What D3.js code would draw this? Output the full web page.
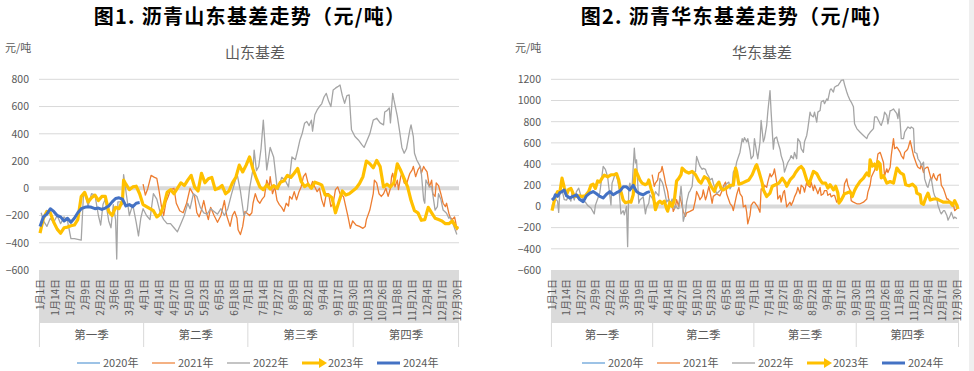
<!DOCTYPE html>
<html>
<head>
<meta charset="utf-8">
<script src="https://cdn.jsdelivr.net/npm/d3@7"></script>
<style>
  body { margin: 0; background: #fff; }
  svg { display: block; }
  text { font-family: "Noto Sans CJK SC", "Noto Sans", sans-serif; }
</style>
</head>
<body>
<svg id="chart" width="974" height="371"></svg>
<script>
/*
  data : [day of year (0 = 1月1日), value]
*/
var years = ['2020年', '2021年', '2022年', '2023年', '2024年'];
var quarters = ['第一季', '第二季', '第三季', '第四季'];
var tickLabels = ['1月1日','1月14日','1月27日','2月9日','2月22日','3月6日','3月19日',
  '4月1日','4月14日','4月27日','5月10日','5月23日','6月5日','6月18日',
  '7月1日','7月14日','7月27日','8月9日','8月22日','9月4日','9月17日','9月30日',
  '10月13日','10月26日','11月8日','11月21日','12月4日','12月17日','12月30日'];

// 山东基差
var sd2021 = [[90,30],[92,-50],[94,-5],[97,95],[100,80],[102,73],[104,-20],[106,-130],[108,-200],[110,-100],[112,-60],[114,-10],[117,0],[119,-110],[122,-165],[125,-180],[128,-110],[131,0],[133,-30],[135,-60],[137,-180],[139,-210],[141,-160],[143,-90],[145,-170],[147,-230],[149,-140],[152,-200],[155,-250],[158,-200],[161,-90],[163,-200],[166,-280],[168,-200],[170,-170],[172,-220],[173,-305],[175,-340],[177,-280],[179,-170],[183,-200],[185,-180],[186,-110],[188,-40],[190,-90],[192,-110],[194,-80],[196,-60],[198,60],[200,10],[201,85],[203,-40],[205,10],[207,-90],[209,-120],[211,-140],[213,-170],[215,-110],[217,-130],[218,-60],[220,-80],[222,-25],[224,-85],[226,-30],[228,10],[230,85],[232,110],[234,40],[236,0],[238,50],[240,10],[242,-25],[244,0],[246,-85],[248,-135],[250,-40],[252,-40],[254,-135],[256,-110],[258,-10],[260,10],[262,-40],[265,-60],[267,-135],[269,-210],[271,-294],[273,-240],[276,-270],[279,-280],[282,-294],[284,-280],[285,-230],[288,-160],[291,-40],[292,60],[294,40],[296,-40],[298,-60],[300,-40],[302,0],[304,-60],[306,0],[307,85],[308,110],[310,10],[312,60],[313,-10],[315,85],[316,110],[318,40],[320,30],[322,85],[323,110],[325,135],[326,160],[328,85],[330,135],[332,160],[333,110],[335,160],[336,145],[338,120],[340,10],[342,60],[343,-40],[345,-60],[346,40],[348,20],[350,-40],[352,-110],[354,-135],[355,-110],[357,-183],[358,-210],[360,-230],[362,-210],[363,-250],[364,-305],[365,-280]];
var sd2022 = [[1,-180],[3,-240],[6,-280],[9,-220],[12,-250],[15,-200],[18,-260],[21,-210],[24,-240],[27,-370],[30,-370],[33,-375],[36,-380],[38,-40],[40,-60],[42,-130],[45,-40],[48,-50],[51,-200],[53,-270],[55,-120],[57,-80],[60,-240],[62,-290],[64,-120],[66,-230],[67,-520],[68,-100],[70,-100],[72,-120],[73,100],[75,-20],[78,-200],[81,-120],[84,-250],[86,-350],[88,-220],[90,-150],[93,-200],[96,-230],[99,-40],[102,-80],[105,-180],[108,-230],[111,-260],[114,-260],[117,-290],[120,-320],[123,-260],[126,-200],[129,-110],[131,-150],[134,-40],[137,-60],[140,-140],[143,-180],[146,-190],[149,-150],[152,-170],[155,-190],[158,-150],[161,-200],[164,-150],[167,-50],[170,40],[172,110],[175,-20],[178,-200],[181,-160],[183,0],[186,140],[187,280],[189,130],[191,160],[193,290],[195,500],[196,380],[198,135],[201,300],[204,230],[207,10],[208,-10],[211,80],[214,60],[217,10],[220,230],[223,210],[225,280],[227,355],[229,404],[231,477],[233,490],[235,460],[237,500],[238,420],[240,540],[242,575],[244,600],[246,620],[248,670],[250,697],[252,640],[254,600],[256,722],[258,735],[260,746],[262,758],[264,680],[266,624],[268,680],[270,685],[272,430],[275,380],[278,355],[281,320],[283,300],[285,340],[288,400],[291,500],[294,514],[297,480],[300,465],[301,560],[303,570],[305,590],[306,480],[308,697],[309,650],[312,530],[314,420],[316,300],[318,257],[320,290],[323,430],[324,465],[326,380],[327,257],[329,208],[332,160],[333,110],[335,-85],[336,-110],[337,61],[340,10],[342,12],[345,-160],[347,-135],[348,-40],[350,-80],[352,-160],[355,-183],[357,-220],[358,-210],[361,-270],[364,-340]];
var sd2023 = [[0,-330],[3,-220],[6,-170],[9,-180],[12,-250],[15,-300],[18,-330],[21,-290],[24,-285],[27,-275],[30,-270],[33,-230],[36,-60],[39,-30],[42,-100],[45,-70],[48,-50],[51,-90],[54,-60],[57,-60],[60,-170],[63,-200],[66,-140],[69,-150],[72,-90],[73,60],[75,30],[78,-10],[81,10],[84,15],[87,-40],[90,-120],[93,-135],[96,-150],[99,-165],[102,-210],[105,-190],[108,-130],[111,-30],[114,-10],[117,-40],[120,0],[123,40],[126,20],[129,60],[132,95],[135,10],[138,-20],[141,110],[144,40],[147,70],[150,80],[153,-10],[156,0],[159,20],[162,-40],[165,-20],[168,40],[171,80],[174,170],[177,120],[180,170],[183,230],[186,140],[189,70],[192,10],[195,-10],[198,25],[201,-5],[204,20],[207,0],[210,45],[213,55],[216,95],[219,80],[222,110],[225,145],[228,50],[231,12],[234,30],[237,0],[240,45],[243,35],[246,25],[249,-50],[252,-50],[255,-70],[258,-180],[261,-100],[264,-20],[267,-50],[270,-40],[273,-20],[276,0],[279,35],[282,85],[285,200],[288,180],[291,150],[294,205],[297,160],[300,10],[303,30],[306,10],[309,40],[312,180],[315,130],[318,70],[321,10],[324,-90],[327,-165],[330,-180],[333,-235],[336,-230],[339,-140],[342,-180],[345,-220],[348,-230],[351,-240],[354,-260],[357,-260],[360,-240],[363,-280],[365,-300]];
var sd2024 = [[0,-280],[3,-210],[6,-190],[9,-150],[12,-170],[15,-200],[18,-210],[21,-240],[24,-220],[27,-250],[30,-220],[33,-180],[36,-150],[39,-140],[42,-135],[45,-140],[48,-150],[51,-145],[54,-155],[57,-145],[60,-130],[63,-100],[66,-75],[69,-70],[72,-80],[75,-130],[78,-120],[81,-135],[84,-110],[87,-105]];

// 华东基差
var hd2021 = [[90,300],[92,190],[93,220],[95,250],[96,315],[98,330],[99,377],[101,280],[102,220],[104,140],[105,60],[107,0],[108,30],[109,-47],[111,0],[112,63],[114,0],[115,95],[117,0],[118,-47],[120,-94],[121,-60],[124,-47],[127,-30],[129,63],[130,141],[132,95],[133,63],[135,95],[136,157],[138,63],[139,95],[141,189],[142,141],[144,30],[145,95],[148,120],[151,100],[153,150],[154,190],[156,230],[157,120],[159,60],[160,30],[162,0],[163,-40],[165,60],[166,110],[168,180],[169,120],[171,90],[172,-5],[174,10],[175,-55],[176,-165],[178,-85],[179,10],[181,40],[182,40],[184,10],[185,-5],[187,-55],[188,165],[190,165],[191,200],[193,180],[194,230],[196,310],[197,280],[199,310],[200,355],[202,230],[203,70],[205,105],[206,40],[208,135],[209,150],[211,-5],[212,10],[214,40],[215,10],[217,55],[218,90],[220,135],[221,180],[223,120],[224,200],[226,180],[227,135],[229,230],[230,200],[232,180],[233,230],[235,150],[236,200],[238,150],[239,120],[241,180],[242,105],[244,120],[245,150],[247,150],[248,105],[250,120],[251,90],[253,105],[254,105],[256,40],[257,55],[259,70],[260,55],[262,105],[263,215],[265,260],[266,200],[268,150],[269,55],[271,40],[274,25],[277,25],[280,40],[283,70],[284,135],[286,200],[287,275],[289,320],[290,340],[292,415],[293,495],[295,510],[296,480],[298,415],[299,290],[301,355],[302,320],[304,370],[305,480],[307,640],[308,545],[310,560],[311,545],[313,510],[314,480],[316,450],[317,510],[319,530],[320,545],[322,620],[323,575],[325,480],[326,450],[328,390],[329,370],[331,355],[332,400],[334,320],[335,355],[337,370],[338,370],[340,290],[341,245],[343,310],[344,275],[346,245],[347,290],[349,305],[350,200],[352,165],[353,135],[355,70],[356,70],[358,40],[359,25],[361,10],[362,-40],[364,-20]];
var hd2022 = [[1,30],[3,70],[5,50],[6,-57],[7,130],[9,157],[11,65],[13,60],[15,100],[17,50],[18,130],[20,60],[22,140],[24,173],[26,100],[28,60],[30,40],[32,10],[35,-15],[38,-70],[39,10],[41,70],[43,130],[46,377],[48,350],[50,280],[51,190],[53,15],[54,220],[55,250],[57,315],[59,250],[60,190],[62,-70],[64,-40],[65,-80],[67,0],[68,-380],[69,170],[70,220],[71,160],[72,180],[74,550],[75,410],[76,440],[78,30],[79,60],[82,90],[84,-70],[85,-10],[87,30],[88,110],[90,80],[91,60],[93,140],[94,125],[96,100],[97,264],[99,230],[100,200],[102,100],[103,40],[105,70],[106,10],[108,70],[110,-20],[111,10],[113,-20],[114,-20],[116,190],[117,70],[118,-140],[120,-60],[121,40],[123,130],[124,145],[126,190],[127,315],[129,330],[130,472],[132,410],[133,380],[135,350],[136,360],[138,350],[139,315],[141,280],[142,250],[144,265],[145,220],[148,120],[151,150],[154,180],[157,215],[159,230],[160,165],[162,200],[163,324],[165,360],[166,418],[168,480],[169,512],[171,640],[172,610],[173,650],[175,610],[176,640],[178,530],[179,450],[181,480],[182,640],[184,510],[185,450],[187,610],[188,811],[190,610],[191,640],[193,764],[194,890],[196,1094],[197,890],[199,540],[200,640],[202,655],[203,610],[205,540],[206,480],[208,415],[209,324],[211,385],[212,415],[214,450],[215,480],[217,450],[218,510],[220,450],[221,640],[223,610],[224,545],[226,510],[227,610],[229,670],[230,735],[232,890],[233,860],[235,845],[236,890],[238,795],[239,890],[241,905],[242,985],[244,1000],[245,970],[247,1015],[248,1000],[250,1100],[251,1110],[253,1080],[254,1125],[256,1140],[257,1140],[259,1170],[260,1190],[262,1195],[263,1150],[265,1080],[266,1050],[268,1000],[269,985],[271,940],[272,780],[274,735],[277,700],[280,670],[283,640],[284,670],[286,700],[289,735],[290,845],[292,845],[295,780],[296,765],[298,830],[299,890],[301,860],[302,780],[304,905],[305,905],[307,920],[308,905],[310,875],[311,830],[312,920],[313,795],[314,640],[316,640],[317,700],[319,735],[320,750],[322,735],[323,750],[325,735],[326,512],[328,500],[329,450],[331,418],[332,385],[334,418],[335,260],[337,195],[338,180],[340,260],[341,260],[343,135],[344,100],[346,70],[347,10],[349,-50],[350,-70],[352,-40],[353,-40],[355,-85],[356,-130],[358,-85],[359,-55],[361,-115],[362,-100],[364,-115]];
var hd2023 = [[0,-40],[3,94],[5,140],[7,130],[9,267],[11,180],[13,110],[15,160],[17,170],[19,120],[21,95],[24,100],[27,95],[30,100],[33,140],[35,200],[37,210],[39,170],[41,240],[43,230],[45,267],[47,295],[50,280],[53,299],[56,300],[58,310],[60,250],[62,140],[64,60],[66,35],[69,45],[71,40],[73,110],[75,346],[77,300],[79,250],[81,220],[84,205],[86,220],[87,250],[89,170],[91,110],[93,-31],[95,30],[97,50],[99,30],[101,50],[103,-20],[104,-45],[106,40],[108,0],[110,60],[112,240],[114,265],[116,300],[117,362],[120,330],[123,315],[126,330],[129,300],[132,240],[134,220],[137,280],[140,260],[143,190],[146,141],[148,200],[150,230],[152,170],[154,157],[157,175],[160,200],[163,200],[165,362],[166,330],[168,210],[171,220],[174,235],[177,250],[180,299],[183,377],[184,393],[186,330],[189,220],[190,157],[193,94],[196,126],[198,190],[201,205],[204,220],[207,267],[210,220],[211,190],[214,250],[217,283],[219,320],[222,362],[224,377],[226,350],[229,250],[231,210],[235,330],[238,310],[241,250],[243,220],[246,220],[248,173],[250,205],[253,157],[255,190],[257,126],[258,31],[260,60],[263,120],[265,126],[268,140],[270,94],[272,150],[274,190],[277,236],[280,267],[282,300],[283,315],[285,290],[286,440],[288,380],[290,400],[292,350],[293,424],[295,400],[296,270],[298,290],[301,220],[304,235],[307,220],[310,362],[313,320],[316,300],[318,204],[321,195],[324,210],[327,180],[328,126],[331,110],[332,31],[334,20],[336,80],[338,126],[340,60],[343,70],[346,70],[349,55],[352,40],[355,40],[358,40],[360,10],[362,55],[364,10],[365,-25]];
var hd2024 = [[0,60],[2,80],[3,110],[5,95],[7,130],[9,140],[11,155],[13,100],[16,80],[19,95],[22,110],[25,65],[28,45],[31,100],[34,125],[37,140],[40,120],[43,95],[46,80],[49,115],[52,140],[55,110],[58,130],[61,145],[64,185],[67,185],[70,155],[73,200],[76,140],[79,120],[82,110],[85,130],[88,140]];

var lineColors = ['#5b9bd5', '#ed7d31', '#a5a5a5', '#ffc000', '#4472c4'];
var legendColors = ['#9dc3e6', '#f4b183', '#c4c4c4', '#ffc000', '#4472c4'];
var lineWidths = [1.3, 1.3, 1.3, 3.2, 3];

var svg = d3.select('#chart');
var yearStart = new Date(2024, 0, 1);

function dayOf(label) {
  var m = label.match(/(\d+)月(\d+)日/);
  return d3.timeDay.count(yearStart, new Date(2024, +m[1] - 1, +m[2]));
}
var tickDays = tickLabels.map(dayOf);
var quarterBounds = d3.range(5).map(function(q) {
  return d3.timeDay.count(yearStart, new Date(2024, q * 3, 1));
});

function drawPanel(p) {
  var x = d3.scaleLinear().domain([0, 365]).range([p.x0, p.x1]),
      y = d3.scaleLinear().domain([p.yMin, p.yMax]).range([270, 79.3]);
  var g = svg.append('g');

  // titles
  g.append('text').attr('x', p.titleX).attr('y', 23.5).attr('text-anchor', 'middle')
    .attr('font-size', 20).attr('font-weight', 'bold').attr('letter-spacing', 1.3)
    .attr('fill', '#000').text(p.title);
  g.append('text').attr('x', p.unitX).attr('y', 52)
    .attr('font-size', 11).attr('fill', '#595959').text('元/吨');
  g.append('text').attr('x', p.subX).attr('y', 58).attr('text-anchor', 'middle')
    .attr('font-size', 15).attr('fill', '#595959').text(p.sub);

  // category band
  g.append('rect').attr('x', p.x0 - 1).attr('y', 270)
    .attr('width', p.x1 - p.x0 + 2).attr('height', 53).attr('fill', '#dadada');

  // gridlines
  var ticks = d3.range(p.yMin, p.yMax + 1, 200);
  g.selectAll('line.grid').data(ticks.filter(function(t) { return t > p.yMin; }))
    .enter().append('line')
      .attr('class', 'grid')
      .attr('x1', p.x0 - 1).attr('x2', p.x1 + 1)
      .attr('y1', function(d) { return y(d); })
      .attr('y2', function(d) { return y(d); })
      .attr('stroke', '#d9d9d9')
      .attr('stroke-width', function(d) { return d === 0 ? 4 : 1; });

  // y axis labels
  var ya = g.append('g').attr('transform', 'translate(' + (p.x0 - 11) + ',0)')
    .call(d3.axisLeft(y).tickValues(ticks).tickSize(0).tickPadding(0).tickFormat(d3.format('d')));
  ya.select('.domain').remove();
  ya.attr('font-family', null);
  ya.selectAll('text').attr('font-size', 10.5).attr('fill', '#595959');

  // date labels
  var xa = g.append('g').attr('transform', 'translate(0,279)')
    .call(d3.axisBottom(x).tickValues(tickDays).tickSize(0)
      .tickFormat(function(d, i) { return tickLabels[i]; }));
  xa.select('.domain').remove();
  xa.attr('font-family', null);
  xa.selectAll('text')
    .attr('transform', 'rotate(-90)')
    .attr('text-anchor', 'end')
    .attr('x', 0).attr('y', 0).attr('dy', '0.35em')
    .attr('font-size', 10).attr('fill', '#595959');

  // quarter groups
  g.selectAll('line.q').data(quarterBounds).enter().append('line')
    .attr('x1', function(d) { return x(d - 0.5); })
    .attr('x2', function(d) { return x(d - 0.5); })
    .attr('y1', 323).attr('y2', 347)
    .attr('stroke', '#d9d9d9');
  g.selectAll('text.q').data(quarters).enter().append('text')
    .attr('x', function(d, i) { return (x(quarterBounds[i] - 0.5) + x(quarterBounds[i + 1] - 0.5)) / 2; })
    .attr('y', 339).attr('text-anchor', 'middle')
    .attr('font-size', 11.5).attr('fill', '#595959').text(function(d) { return d; });

  // series
  var line = d3.line()
    .x(function(d) { return x(d[0]); })
    .y(function(d) { return y(d[1]); });
  p.series.forEach(function(s, i) {
    if (!s) return;
    g.append('path').datum(s)
      .attr('d', line)
      .attr('fill', 'none')
      .attr('stroke', lineColors[i])
      .attr('stroke-width', lineWidths[i])
      .attr('stroke-linejoin', 'round');
  });

  // legend
  var lg = g.selectAll('g.lg').data(years).enter().append('g')
    .attr('transform', function(d, i) { return 'translate(' + (p.legendX + i * 75) + ',363)'; });
  lg.each(function(d, i) {
    var e = d3.select(this);
    if (i === 3) {
      e.append('line').attr('x1', 0).attr('x2', 18).attr('y1', 0).attr('y2', 0)
        .attr('stroke', legendColors[i]).attr('stroke-width', 3);
      e.append('path').attr('d', 'M17,-5L25,0L17,5Z').attr('fill', legendColors[i]);
    } else {
      e.append('line').attr('x1', 0).attr('x2', 23).attr('y1', 0).attr('y2', 0)
        .attr('stroke', legendColors[i]).attr('stroke-width', i === 4 ? 3 : 2);
    }
    e.append('text').attr('x', 26).attr('dy', '0.35em')
      .attr('font-size', 11).attr('fill', '#595959').text(d);
  });
}

drawPanel({
  title: '图1. 沥青山东基差走势（元/吨）', titleX: 250, unitX: 5,
  sub: '山东基差', subX: 255,
  x0: 40, x1: 458, yMin: -600, yMax: 800, legendX: 77,
  series: [null, sd2021, sd2022, sd2023, sd2024]
});
drawPanel({
  title: '图2. 沥青华东基差走势（元/吨）', titleX: 737, unitX: 515,
  sub: '华东基差', subX: 762,
  x0: 552, x1: 958, yMin: -600, yMax: 1200, legendX: 582,
  series: [null, hd2021, hd2022, hd2023, hd2024]
});

// right edge strip
svg.append('rect').attr('x', 969).attr('y', 0).attr('width', 5).attr('height', 371).attr('fill', '#efefef');
</script>
</body>
</html>
